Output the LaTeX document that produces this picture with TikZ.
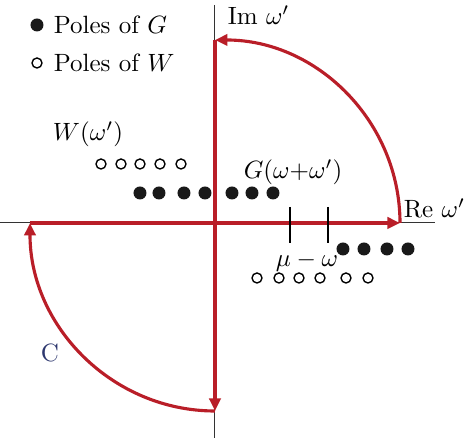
\documentclass[tikz,border=0pt]{standalone}
\usepackage{xcolor}
\usepackage{tikz}
\usetikzlibrary{arrows.meta, positioning}

\definecolor{contourred}{RGB}{185,30,40}
\definecolor{labelblue}{RGB}{45,55,110}

\begin{document}
\begin{tikzpicture}[
    x=0.4pt, y=0.4pt,
    axis/.style={draw=black!80, line width=0.4pt},
    contour/.style={draw=contourred, line width=1.25pt},
    contourarrow/.style={contour, -{Triangle[length=5pt, width=4.5pt]}},
    gpole/.style={circle, fill=black!90, inner sep=0pt, minimum size=5.2pt},
    wpole/.style={circle, draw=black, line width=0.55pt, fill=white,
                  inner sep=0pt, minimum size=4pt},
    tick/.style={draw=black, line width=0.5pt}
]
\useasboundingbox (-215,-215) rectangle (252,223);

% Axes
\coordinate (xl) at (-215,0);
\coordinate (xr) at (220,0);
\coordinate (yt) at (0,218);
\coordinate (yb) at (0,-215);
\draw[axis] (xl) -- (xr);
\draw[axis] (yt) -- (yb);
\node[anchor=west, inner sep=0.5pt] (relab) at (187,15) {Re $\omega'$};
\node[anchor=west] (imlab) at (4,208) {Im $\omega'$};

% Contour C
\coordinate (O) at (0,0);
\coordinate (E) at (185,0);
\coordinate (N) at (0,183);
\coordinate (S) at (0,-188);
\coordinate (W) at (-185,0);
\draw[contourarrow] (O) -- (E);
\draw[contourarrow] (E) arc[start angle=0, end angle=90, x radius=185, y radius=183];
\draw[contourarrow] (N) -- (S);
\draw[contourarrow] (S) arc[start angle=270, end angle=180, x radius=185, y radius=188];
\draw[contour] (W) -- (O);
\node[text=labelblue] (clab) at (-165,-130) {C};

% Legend
\node[gpole] (lg) at (-178,198) {};
\node[anchor=west] (lgtext) at (-170,198) {Poles of $G$};
\node[wpole] (lw) at (-178,160) {};
\node[anchor=west] (lwtext) at (-170,160) {Poles of $W$};

% Poles of G
\node[gpole] (g1) at (-75,30) {};
\node[gpole] (g2) at (-56,30) {};
\node[gpole] (g3) at (-31,30) {};
\node[gpole] (g4) at (-10,30) {};
\node[gpole] (g5) at (17,30) {};
\node[gpole] (g6) at (37,30) {};
\node[gpole] (g7) at (58,30) {};
\node[gpole] (g8) at (128,-26) {};
\node[gpole] (g9) at (149,-26) {};
\node[gpole] (g10) at (172,-26) {};
\node[gpole] (g11) at (193,-26) {};
\node (glab) at (78,51) {$G(\omega{+}\omega')$};

% Poles of W
\node[wpole] (w1) at (-114,59) {};
\node[wpole] (w2) at (-94,59) {};
\node[wpole] (w3) at (-75,59) {};
\node[wpole] (w4) at (-55,59) {};
\node[wpole] (w5) at (-34,59) {};
\node[wpole] (w6) at (42,-55) {};
\node[wpole] (w7) at (64,-55) {};
\node[wpole] (w8) at (84,-55) {};
\node[wpole] (w9) at (105,-55) {};
\node[wpole] (w10) at (131,-55) {};
\node[wpole] (w11) at (153,-55) {};
\node (wlab) at (-127,89) {$W(\omega')$};

% Chemical potential marks
\coordinate (t1a) at (75,16);
\coordinate (t1b) at (75,-20);
\coordinate (t2a) at (113,16);
\coordinate (t2b) at (113,-20);
\draw[tick] (t1a) -- (t1b);
\draw[tick] (t2a) -- (t2b);
\node (mulab) at (92,-39) {$\mu-\omega$};

\end{tikzpicture}
\end{document}
